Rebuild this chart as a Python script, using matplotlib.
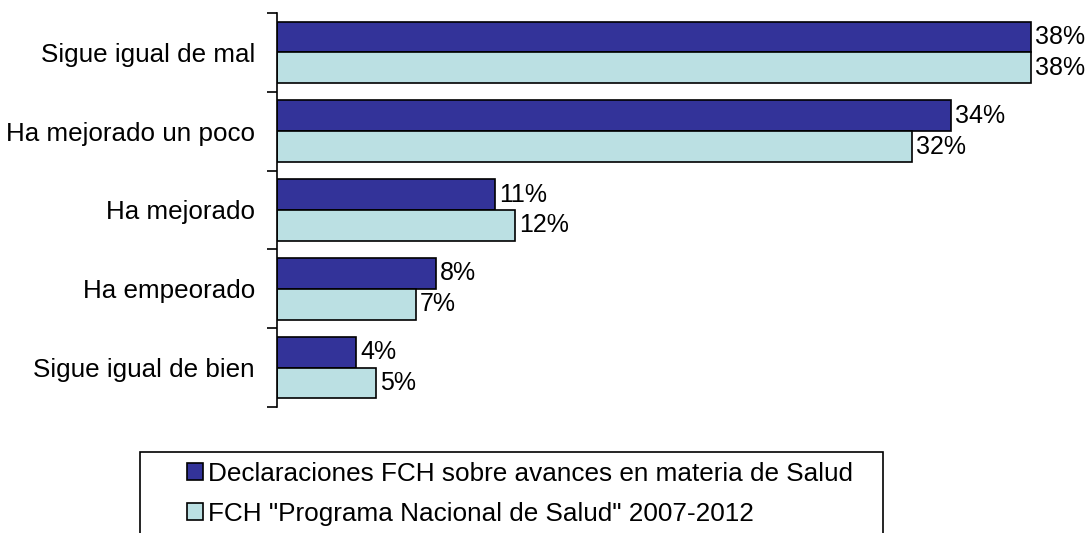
import matplotlib
matplotlib.use("Agg")
import matplotlib.pyplot as plt
from matplotlib.patches import Rectangle
import numpy as np

plt.rcParams["font.family"] = ["Liberation Sans", "DejaVu Sans"]

categorias = ["Sigue igual de mal", "Ha mejorado un poco", "Ha mejorado",
              "Ha empeorado", "Sigue igual de bien"]
declaraciones = [38, 34, 11, 8, 4]
programa = [38, 32, 12, 7, 5]
series = ["Declaraciones FCH sobre avances en materia de Salud",
          'FCH "Programa Nacional de Salud" 2007-2012']
colores = ["#333399", "#BBE0E3"]

W, H = 1092, 533
fig = plt.figure(figsize=(W / 100, H / 100), dpi=100)
ax = fig.add_axes([277 / W, 1 - 407 / H, 1 - 277 / W, (407 - 13) / H])

y = np.arange(len(categorias))
alto = 0.39
b1 = ax.barh(y - alto / 2, declaraciones, height=alto, color=colores[0],
             edgecolor="black", linewidth=1.2, label=series[0])
b2 = ax.barh(y + alto / 2, programa, height=alto, color=colores[1],
             edgecolor="black", linewidth=1.2, label=series[1])

for barras, vals in ((b1, declaraciones), (b2, programa)):
    for rect, v in zip(barras, vals):
        ax.text(rect.get_width() + 0.2, rect.get_y() + rect.get_height() / 2,
                f"{v}%", va="center", ha="left", fontsize=18, clip_on=False)

ax.set_xlim(0, (W - 277) / 19.83)
ax.set_ylim(len(categorias) - 0.5, -0.5)

ax.set_yticks(y)
ax.set_yticklabels(categorias, fontsize=18.7)
ax.set_yticks(np.arange(len(categorias) + 1) - 0.5, minor=True)
ax.tick_params(axis="y", which="major", length=0, pad=16)
ax.tick_params(axis="y", which="minor", length=7, width=1.2, direction="out")
ax.set_xticks([])
for lado in ("top", "right", "bottom"):
    ax.spines[lado].set_visible(False)
ax.spines["left"].set_linewidth(1.2)

# marco de la leyenda
fig.patches.append(Rectangle((140 / W, -0.1), (883 - 140) / W, 1 - 452 / H + 0.1,
                             transform=fig.transFigure, facecolor="white",
                             edgecolor="black", linewidth=1.2))
fig.legend(handles=[b1, b2], loc="upper left",
           bbox_to_anchor=(187 / W, 1 - 462 / H), bbox_transform=fig.transFigure,
           frameon=False, fontsize=18.8, borderpad=0, borderaxespad=0,
           handlelength=0.62, handleheight=0.62, handletextpad=0.18, labelspacing=0.6)

fig.savefig("out.png", dpi=100)
